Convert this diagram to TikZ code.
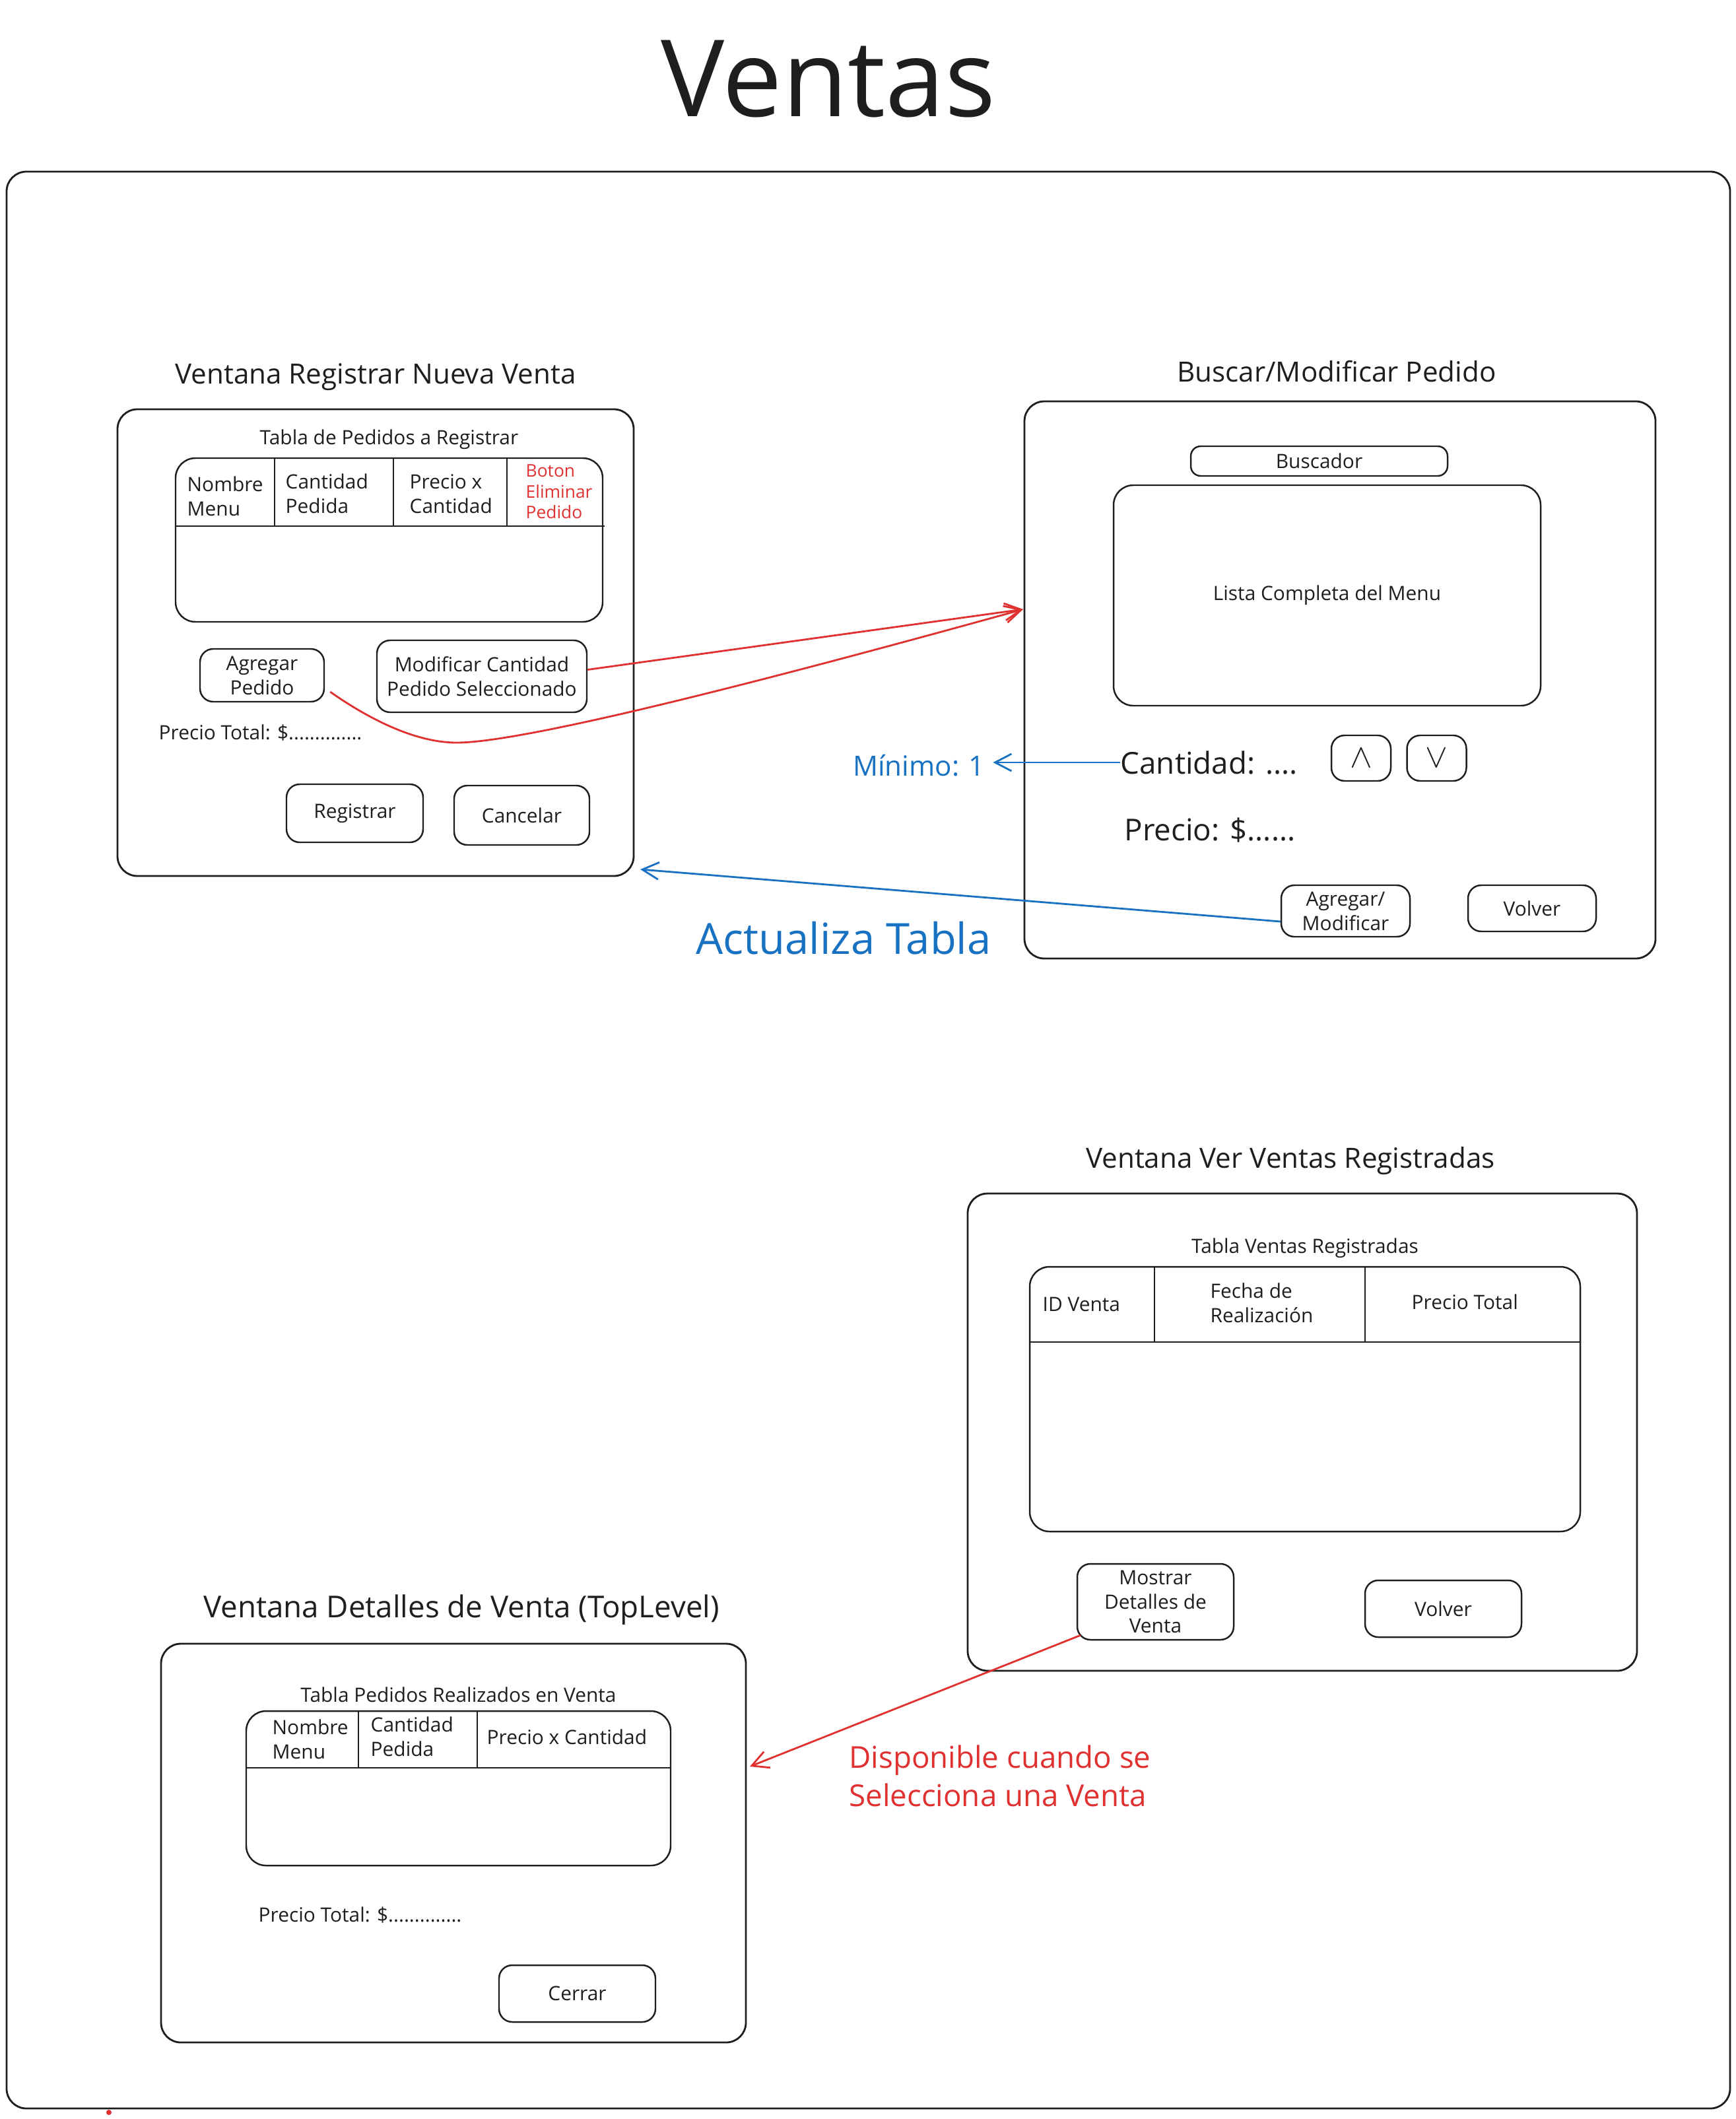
\documentclass[tikz,border=0pt]{standalone}
\usepackage{fontspec}
\setmainfont{Open Sans}
\usetikzlibrary{arrows.meta, positioning}
\definecolor{ink}{HTML}{1E1E1E}
\definecolor{xred}{HTML}{E03131}
\definecolor{xblue}{HTML}{1971C2}

\begin{document}
\begin{tikzpicture}[
	y=-1cm,
	frame/.style={draw=ink, rounded corners=3mm, line width=0.8pt},
	win/.style={rectangle, draw=ink, rounded corners=3mm, line width=0.8pt},
	tbl/.style={rectangle, draw=ink, rounded corners=3mm, line width=0.7pt, text=ink, font=\fontsize{8.5}{10.5}\selectfont},
	rule/.style={draw=ink, line width=0.7pt},
	btn/.style={rectangle, draw=ink, rounded corners=2mm, line width=0.7pt, align=center, text=ink, inner sep=1pt, font=\fontsize{8.5}{10.5}\selectfont},
	tcaption/.style={text=ink, font=\fontsize{8.5}{10.5}\selectfont},
	lbl/.style={text=ink, align=left, inner sep=0pt, font=\fontsize{8.5}{10.5}\selectfont},
	big/.style={text=ink, inner sep=0pt, font=\fontsize{13}{16}\selectfont},
	wtitle/.style={text=ink, font=\fontsize{12}{14}\selectfont},
	note/.style={align=left, font=\fontsize{12}{16}\selectfont},
	redarrow/.style={-{Straight Barb[length=2.5mm, width=2.6mm]}, draw=xred, line width=0.8pt},
	bluearrow/.style={-{Straight Barb[length=2.5mm, width=2.6mm]}, draw=xblue, line width=0.8pt},
	node distance=1.5mm
]
	\useasboundingbox (0,0) rectangle (26.29,32.10);

	\node[text=ink, font=\fontsize{46}{55}\selectfont] (ventas) at (12.55,1.20) {Ventas};
	\draw[frame] (0.10,2.60) rectangle (26.21,31.94);
	\fill[xred] (1.65,32.00) circle (0.04);

	\node[win, minimum width=7.82cm, minimum height=7.07cm] (regwin) at (5.69,9.735) {};
	\node[wtitle, above=of regwin] (regtitle) {Ventana Registrar Nueva Venta};
	\node[tbl, minimum width=6.47cm, minimum height=2.48cm] (regtbl) at (5.895,8.18) {};
	\node[tcaption, above=0pt of regtbl] (regcap) {Tabla de Pedidos a Registrar};
	\draw[rule] (regtbl.west |- 0,7.97) -- (9.16,7.97);
	\draw[rule] (4.16,6.94) -- (4.16,7.97);
	\draw[rule] (5.96,6.94) -- (5.96,7.97);
	\draw[rule] (7.68,6.94) -- (7.68,7.97);
	\node[lbl, anchor=west] (regh1) at (2.83,7.52) {Nombre\\Menu};
	\node[lbl, anchor=west] (regh2) at (4.32,7.48) {Cantidad\\Pedida};
	\node[lbl, anchor=west] (regh3) at (6.20,7.48) {Precio x\\Cantidad};
	\node[lbl, anchor=west, text=xred, font=\fontsize{7.5}{9}\selectfont] (regh4) at (7.96,7.45) {Boton\\Eliminar\\Pedido};
	\node[btn, minimum width=1.88cm, minimum height=0.80cm] (agrped) at (3.97,10.23) {Agregar\\Pedido};
	\node[btn, minimum width=3.18cm, minimum height=1.09cm] (modped) at (7.30,10.245) {Modificar Cantidad\\Pedido Seleccionado};
	\node[lbl, anchor=west] (regtotal) at (2.40,11.10) {Precio Total: \$..............};
	\node[btn, minimum width=2.07cm, minimum height=0.88cm] (registrar) at (5.375,12.32) {Registrar};
	\node[btn, minimum width=2.05cm, minimum height=0.90cm] (cancelar) at (7.905,12.35) {Cancelar};

	\node[win, minimum width=9.56cm, minimum height=8.44cm] (buswin) at (20.30,10.30) {};
	\node[wtitle, above=of buswin, xshift=-0.5mm] (bustitle) {Buscar/Modificar Pedido};
	\node[btn, rounded corners=1.5mm, minimum width=3.89cm, minimum height=0.45cm, inner sep=0pt] (buscador) at (19.985,6.985) {Buscador};
	\node[tbl, minimum width=6.47cm, minimum height=3.34cm] (lista) at (20.105,9.02) {Lista Completa del Menu};
	\node[big, anchor=west] (cantidad) at (16.97,11.55) {Cantidad: ....};
	\node[btn, minimum width=0.90cm, minimum height=0.69cm, font=\fontsize{14}{14}\selectfont] (subir) at (20.62,11.485) {$\wedge$};
	\node[btn, minimum width=0.90cm, minimum height=0.69cm, font=\fontsize{14}{14}\selectfont] (bajar) at (21.765,11.485) {$\vee$};
	\node[big, anchor=west] (precio) at (17.03,12.57) {Precio: \$......};
	\node[btn, minimum width=1.95cm, minimum height=0.78cm] (agrmod) at (20.385,13.80) {Agregar/\\Modificar};
	\node[btn, minimum width=1.94cm, minimum height=0.70cm] (volver) at (23.21,13.76) {Volver};
	\node[note, text=xblue] (minimo) at (13.92,11.60) {Mínimo: 1};
	\node[note, text=xblue, font=\fontsize{18.5}{22}\selectfont] (actualiza) at (12.78,14.21) {Actualiza Tabla};

	\node[win, minimum width=10.14cm, minimum height=7.23cm] (verwin) at (19.73,21.695) {};
	\node[wtitle, above=of verwin, xshift=-1.8mm] (vertitle) {Ventana Ver Ventas Registradas};
	\node[tbl, minimum width=8.34cm, minimum height=4.01cm] (vertbl) at (19.77,21.195) {};
	\node[tcaption, above=0pt of vertbl] (vercap) {Tabla Ventas Registradas};
	\draw[rule] (vertbl.west |- 0,20.33) -- (vertbl.east |- 0,20.33);
	\draw[rule] (17.49,19.19) -- (17.49,20.33);
	\draw[rule] (20.68,19.19) -- (20.68,20.33);
	\node[lbl, anchor=west] (verh1) at (15.79,19.76) {ID Venta};
	\node[lbl, anchor=west] (verh2) at (18.33,19.74) {Fecha de\\Realización};
	\node[lbl, anchor=west] (verh3) at (21.38,19.72) {Precio Total};
	\node[btn, minimum width=2.37cm, minimum height=1.15cm] (mostrar) at (17.505,24.265) {Mostrar\\Detalles de\\Venta};
	\node[btn, minimum width=2.37cm, minimum height=0.86cm] (vervolver) at (21.865,24.37) {Volver};

	\node[win, minimum width=8.86cm, minimum height=6.04cm] (detwin) at (6.87,27.92) {};
	\node[wtitle, above=of detwin, xshift=1.2mm, font=\fontsize{13}{15}\selectfont] (dettitle) {Ventana Detalles de Venta (TopLevel)};
	\node[tbl, minimum width=6.43cm, minimum height=2.34cm] (dettbl) at (6.945,27.09) {};
	\node[tcaption, above=0pt of dettbl] (detcap) {Tabla Pedidos Realizados en Venta};
	\draw[rule] (dettbl.west |- 0,26.78) -- (dettbl.east |- 0,26.78);
	\draw[rule] (5.43,25.92) -- (5.43,26.78);
	\draw[rule] (7.23,25.92) -- (7.23,26.78);
	\node[lbl, anchor=west] (deth1) at (4.12,26.35) {Nombre\\Menu};
	\node[lbl, anchor=west] (deth2) at (5.61,26.31) {Cantidad\\Pedida};
	\node[lbl, anchor=west] (deth3) at (7.37,26.31) {Precio x Cantidad};
	\node[lbl, anchor=west] (dettotal) at (3.91,29.01) {Precio Total: \$..............};
	\node[btn, minimum width=2.37cm, minimum height=0.86cm] (cerrar) at (8.745,30.20) {Cerrar};
	\node[note, text=xred, anchor=west, font=\fontsize{13}{16.5}\selectfont] (disponible) at (12.74,26.90) {Disponible cuando se\\Selecciona una Venta};

	\coordinate (busin) at (15.50,9.23);
	\coordinate (regin) at (9.70,13.17);
	\coordinate (detin) at (11.36,26.76);

	\draw[redarrow] ([yshift=1mm]modped.east) -- (busin);
	\draw[redarrow] ([xshift=0.8mm, yshift=-2.5mm]agrped.east) .. controls (5.6,10.9) and (6.3,11.25) .. (6.92,11.25) .. controls (8.0,11.25) and (12.0,10.2) .. (busin);
	\draw[bluearrow] (cantidad.west) -- (cantidad.west -| minimo.east);
	\draw[bluearrow] ([yshift=-1.6mm]agrmod.west) -- (regin);
	\draw[redarrow] ([xshift=0.6mm, yshift=0.8mm]mostrar.south west) -- (detin);
\end{tikzpicture}
\end{document}
